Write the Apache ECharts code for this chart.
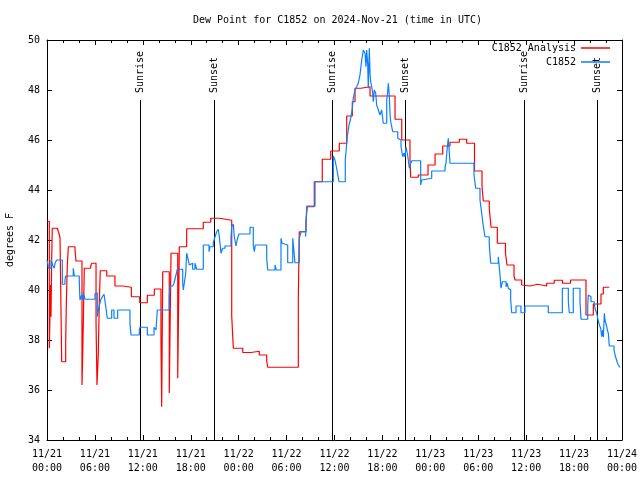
<!DOCTYPE html>
<html><head><meta charset="utf-8">
<script src="https://cdn.jsdelivr.net/npm/echarts@6/dist/echarts.min.js"></script>
<style>html,body{margin:0;padding:0;background:#fff}#c{width:640px;height:480px}</style>
</head><body><div id="c"></div>
<script>
const titleText = 'Dew Point for C1852 on 2024-Nov-21 (time in UTC)';
const yAxisName = 'degrees F';
const tickLabels = ['11/21\n00:00','11/21\n06:00','11/21\n12:00','11/21\n18:00','11/22\n00:00','11/22\n06:00','11/22\n12:00','11/22\n18:00','11/23\n00:00','11/23\n06:00','11/23\n12:00','11/23\n18:00','11/24\n00:00'];
const seriesNames = ['C1852 Analysis', 'C1852'];

// hours since 11/21 00:00 UTC
const redHours = [0,0.29,0.45,0.5,0.59,0.66,1.29,1.47,1.63,1.84,2.34,2.42,2.54,2.67,3.51,3.63,4.38,4.47,4.67,5.47,5.60,6.14,6.26,6.42,6.55,6.67,7.48,8.51,9.48,10.56,11.61,12.56,13.44,14.27,14.36,14.49,15.31,15.53,16.37,16.57,17.49,19.57,20.50,21.58,23.13,23.33,24.51,25.54,26.58,27.51,27.64,31.47,31.59,32.43,32.59,33.47,34.47,35.53,36.60,37.53,38.23,38.57,39.32,40.45,43.58,44.42,45.45,45.54,46.49,47.71,48.59,49.55,50.46,51.63,52.55,53.53,54.47,54.63,55.38,55.60,56.39,57.41,57.60,58.48,58.60,59.44,59.67,60.48,61.44,62.57,63.52,64.55,65.55,67.49,68.41,69.37,69.66,70.41];
const redValues = [42.75,37.67,40.2,38.93,41.27,42.47,42.43,42.29,42.09,37.13,37.91,39.43,40.97,41.73,41.6,41.16,36.2,37.4,40.87,40.96,41.07,38.67,36.2,37.4,39.47,40.77,40.56,40.16,40.11,39.73,39.49,39.79,40.04,38.0,35.33,40.73,35.88,41.47,36.47,41.73,42.45,42.71,42.87,42.79,38.96,37.67,37.5,37.55,37.4,37.16,36.91,39.67,42.33,42.8,43.33,44.33,45.23,45.56,45.87,46.96,47.53,48.07,48.13,47.76,46.83,46.0,45.27,44.51,44.6,45.0,45.44,45.76,45.91,46.03,45.87,44.76,44.16,43.56,43.27,42.51,41.87,41.47,41.0,40.56,40.4,40.2,40.16,40.23,40.16,40.27,40.39,40.27,40.4,39.0,39.44,39.84,40.11,40.11];

const blueHours = [0,0.13,0.16,0.5,0.75,0.91,1.0,1.21,1.92,2.25,2.34,3.29,3.42,4.04,4.13,4.35,4.47,4.55,4.76,6.01,6.14,6.30,6.51,6.72,6.92,7.14,7.39,7.55,8.10,8.39,8.85,10.39,10.52,11.56,11.65,12.56,13.40,13.65,13.81,15.31,15.40,15.74,15.90,16.15,16.32,16.99,17.07,17.19,17.37,17.49,17.69,17.82,18.03,18.24,18.53,18.75,19.57,20.29,20.41,20.82,21.04,21.25,21.45,21.58,21.79,22.00,22.29,23.04,23.13,23.33,23.45,23.67,23.83,24.04,25.42,25.83,25.96,26.08,27.51,27.64,28.55,28.71,29.30,29.43,29.59,30.14,30.77,30.93,31.05,31.59,31.81,32.39,32.52,33.56,35.85,36.06,36.31,36.56,37.35,37.60,37.82,38.07,38.23,38.35,38.57,38.78,38.98,39.19,39.41,39.61,39.82,39.94,40.03,40.16,40.23,40.36,40.45,40.53,40.66,40.78,40.86,40.98,41.16,41.28,41.49,41.70,41.91,42.11,42.54,42.66,42.74,42.86,42.95,43.04,43.29,43.92,44.12,44.33,44.54,44.70,44.83,44.95,45.12,45.24,45.37,45.54,45.67,46.79,46.92,47.04,48.17,49.84,49.96,50.09,50.25,50.34,50.46,53.47,53.68,54.22,54.43,54.63,54.85,55.38,55.56,56.51,56.72,56.85,57.01,57.48,57.64,57.76,57.89,58.06,58.19,58.73,59.35,59.85,62.77,64.53,65.28,65.40,65.90,66.74,66.87,67.71,67.78,67.99,68.12,68.50,68.62,68.83,69.00,69.16,69.33,69.46,69.58,69.66,69.79,69.87,69.96,70.09,70.16,70.29,70.41,71.00,71.13,71.25,71.41,71.54,71.75];
const blueValues = [41.2,41.0,40.87,41.2,40.97,40.87,41.07,41.2,40.23,40.4,40.56,40.87,40.56,40.33,39.6,39.8,39.6,39.87,39.63,39.85,39.89,38.93,39.33,39.6,39.73,39.83,39.27,38.87,39.2,38.87,39.2,38.67,38.2,38.4,38.51,38.2,38.51,38.4,39.2,39.73,40.16,40.13,40.27,40.6,40.83,40.27,40.0,40.27,40.67,41.47,41.2,41.0,41.07,40.83,41.07,40.83,41.8,41.53,41.73,41.89,42.13,42.33,42.43,42.13,41.47,41.67,41.76,42.13,42.53,42.64,42.13,41.76,42.03,42.24,42.51,41.8,41.53,41.8,41.27,40.8,41.0,40.8,42.07,41.87,41.8,41.09,42.07,41.53,41.09,42.07,42.33,42.13,43.36,44.33,45.36,45.2,44.8,44.33,45.2,46.13,46.6,46.93,47.27,47.67,48.0,48.13,48.27,48.6,49.2,49.6,49.47,48.93,49.6,49.0,48.07,49.67,48.67,48.33,48.13,47.87,47.53,48.0,47.87,47.4,47.2,47.0,47.2,46.67,47.6,47.93,48.27,47.8,47.07,46.73,46.33,46.07,46.0,45.73,45.33,45.47,45.33,45.73,45.47,45.2,44.87,45.07,45.17,44.2,44.4,44.47,44.76,44.93,45.07,45.6,46.07,45.67,45.07,44.6,44.07,43.6,43.07,42.56,42.13,41.8,41.07,41.33,40.6,40.07,40.33,40.13,40.27,40.07,40.0,39.6,39.09,39.36,39.09,39.36,39.09,40.07,39.53,39.09,40.07,39.53,38.83,39.4,39.8,39.73,39.53,39.47,39.27,39.07,38.8,38.6,38.47,38.13,38.4,38.11,39.07,38.8,38.87,38.53,38.4,38.27,37.76,37.6,37.4,37.27,37.1,37.0,36.9];

const sunHours = [11.68, 20.93, 35.72, 44.86, 59.76, 68.9];
const sunLabels = ['Sunrise','Sunset','Sunrise','Sunset','Sunrise','Sunset'];
const sunLineTop = 47.6;

const FONT = '"DejaVu Sans Mono", "Liberation Mono", monospace';
const zip = (a, b) => a.map((v, i) => [v, b[i]]);

const chart = echarts.init(document.getElementById('c'), null, {renderer: 'canvas'});
const xCommon = {
  type: 'value', min: 0, max: 72, interval: 6,
  axisLine: {show: true, onZero: false, lineStyle: {color: '#000', width: 1}},
  axisTick: {show: true, inside: true, length: 5, lineStyle: {color: '#000'}},
  minorTick: {show: true, splitNumber: 3, length: 3, lineStyle: {color: '#000'}},
  splitLine: {show: false}
};
const yCommon = {
  type: 'value', min: 34, max: 50, interval: 2,
  axisLine: {show: true, onZero: false, lineStyle: {color: '#000', width: 1}},
  axisTick: {show: true, inside: true, length: 5, lineStyle: {color: '#000'}},
  splitLine: {show: false}
};
chart.setOption({
  animation: false,
  backgroundColor: '#fff',
  title: {text: titleText, left: 188, top: 10,
    textStyle: {fontFamily: FONT, fontSize: 10, fontWeight: 'normal', color: '#000'}},
  grid: {left: 47, right: 18, top: 40, bottom: 40, containLabel: false, outerBoundsMode: 'none'},
  legend: [
    {data: [seriesNames[0]], right: 30, top: 43, padding: 0, align: 'right', icon: 'rect', itemWidth: 29, itemHeight: 1.5,
      textStyle: {fontFamily: FONT, fontSize: 10, color: '#000'}},
    {data: [seriesNames[1]], right: 30, top: 57, padding: 0, align: 'right', icon: 'rect', itemWidth: 29, itemHeight: 1.5,
      textStyle: {fontFamily: FONT, fontSize: 10, color: '#000'}}
  ],
  xAxis: [
    Object.assign({}, xCommon, {position: 'bottom',
      axisLabel: {show: true, margin: 7, fontFamily: FONT, fontSize: 10, color: '#000', lineHeight: 14,
        formatter: v => tickLabels[Math.round(v / 6)]}}),
    Object.assign({}, xCommon, {position: 'top', axisLabel: {show: false}})
  ],
  yAxis: [
    Object.assign({}, yCommon, {position: 'left', name: yAxisName, nameLocation: 'middle', nameGap: 32, nameRotate: 90,
      nameTextStyle: {fontFamily: FONT, fontSize: 10, color: '#000'},
      axisLabel: {show: true, margin: 7, fontFamily: FONT, fontSize: 10, color: '#000'}}),
    Object.assign({}, yCommon, {position: 'right', axisLabel: {show: false}})
  ],
  series: [
    {
      type: 'custom', name: 'events', coordinateSystem: 'cartesian2d', xAxisIndex: 0, yAxisIndex: 0,
      silent: true, clip: false, encode: {x: 0, y: 1},
      data: sunHours.map(h => [h, 34]),
      renderItem: function (params, api) {
        const h = api.value(0);
        const top = api.coord([h, sunLineTop]);
        const bot = api.coord([h, 34]);
        const x = Math.round(top[0]) + 0.5;
        return {type: 'group', children: [
          {type: 'line', shape: {x1: x, y1: top[1], x2: x, y2: bot[1]}, style: {stroke: '#000', lineWidth: 1}},
          {type: 'text', x: x, y: top[1] - 7, rotation: Math.PI / 2,
            style: {text: sunLabels[params.dataIndex], fill: '#000', font: '10px ' + FONT,
              textAlign: 'left', textVerticalAlign: 'middle', align: 'left', verticalAlign: 'middle'}}
        ]};
      }
    },
    {
      type: 'line', name: seriesNames[0], step: 'end', showSymbol: false, symbol: 'none',
      data: zip(redHours, redValues), color: '#ff0000',
      lineStyle: {color: '#ff0000', width: 1.2}
    },
    {
      type: 'line', name: seriesNames[1], step: 'end', showSymbol: false, symbol: 'none',
      data: zip(blueHours, blueValues), color: '#0a80ff',
      lineStyle: {color: '#0a80ff', width: 1.2}
    }
  ]
});
</script>
</body></html>
